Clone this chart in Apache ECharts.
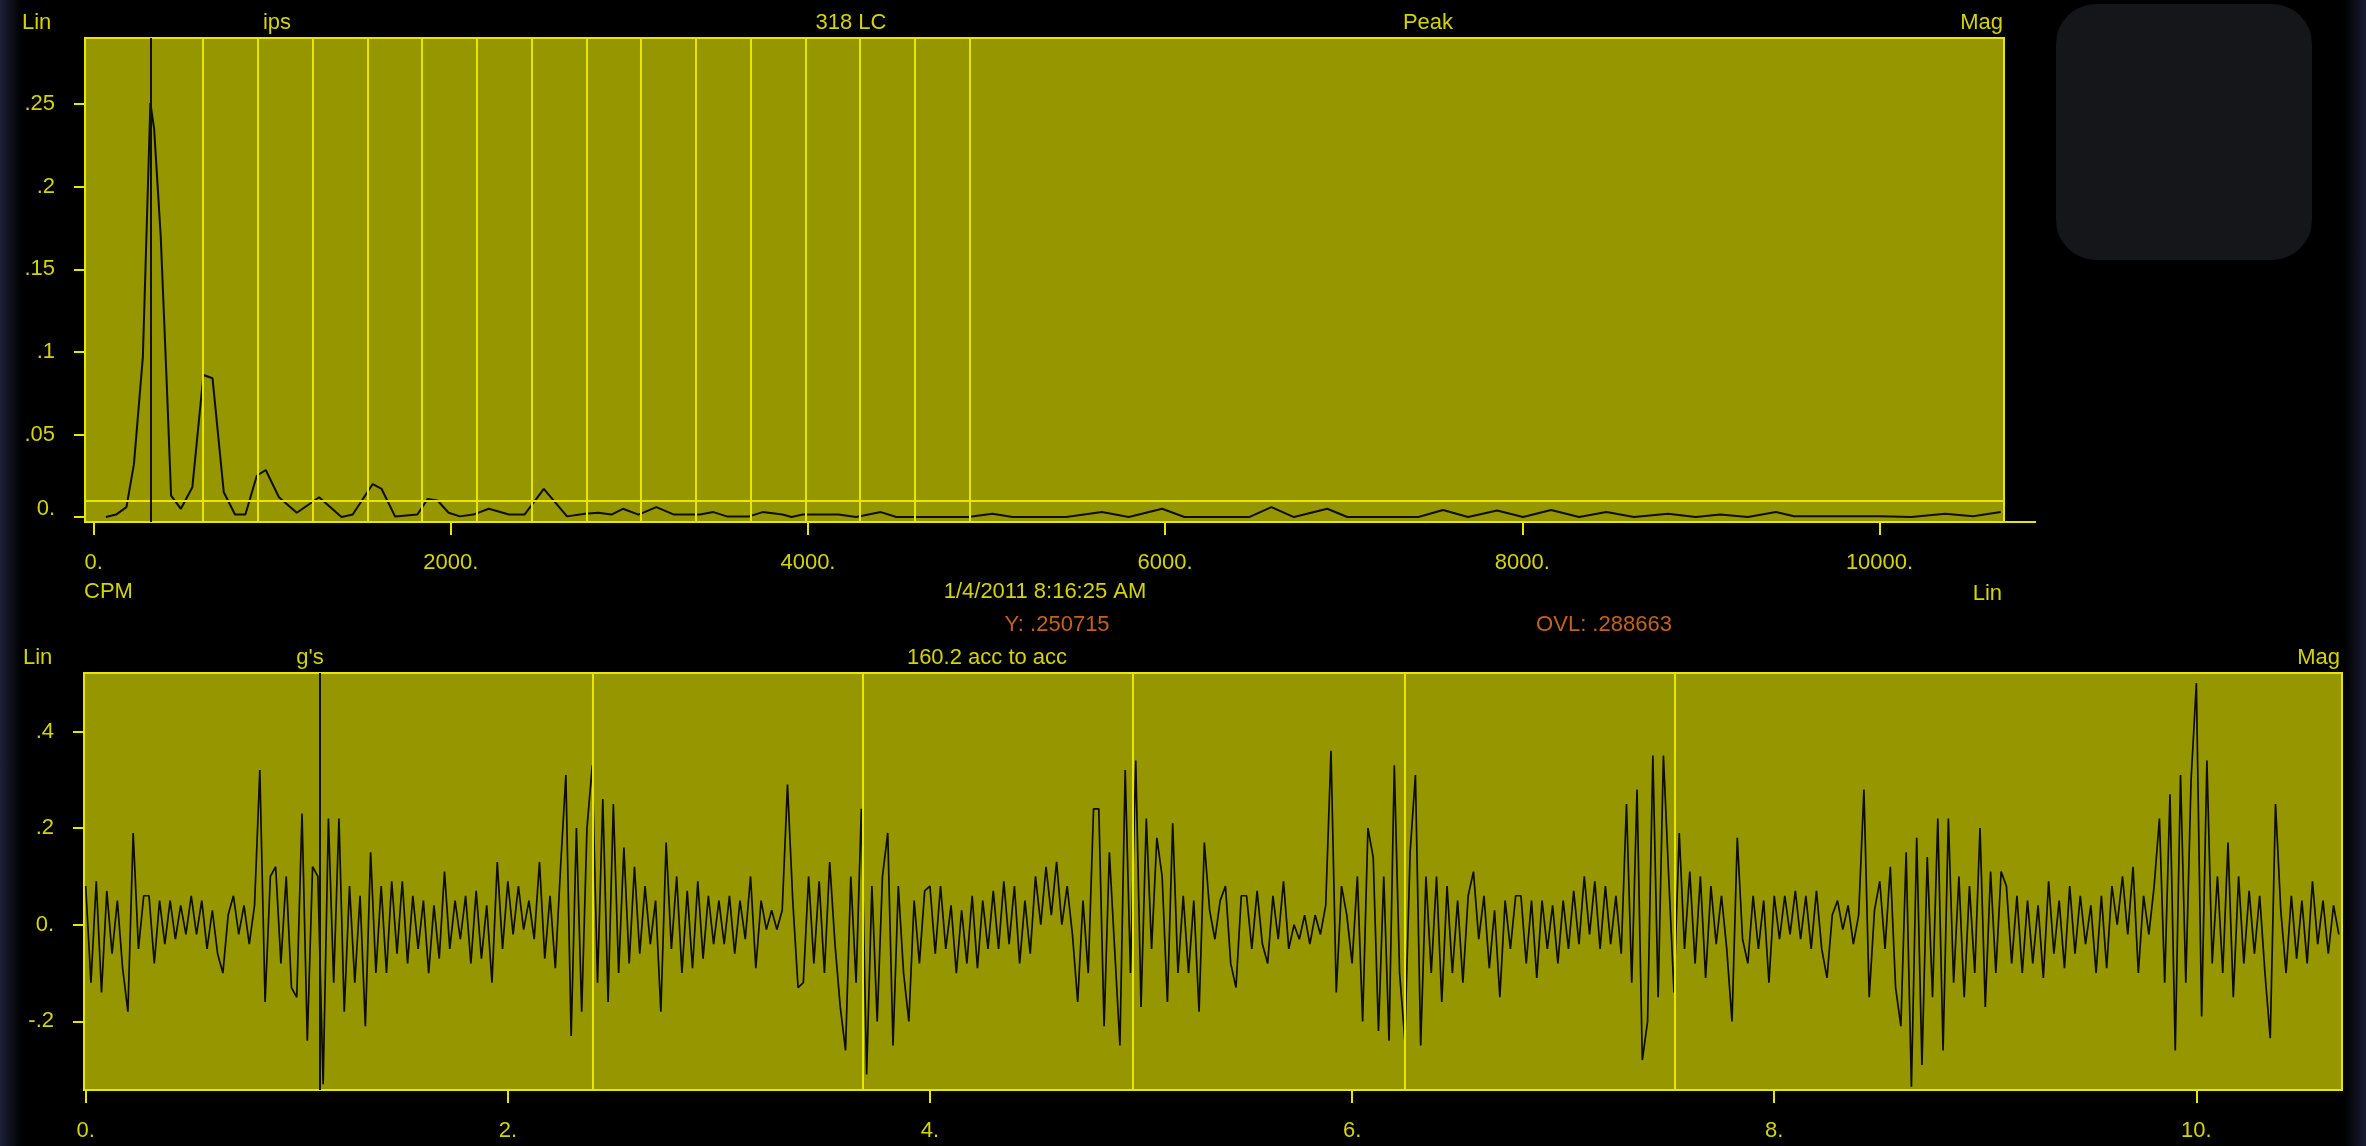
<!DOCTYPE html>
<html>
<head>
<meta charset="utf-8">
<title>Spectrum and waveform</title>
<script src="https://cdn.jsdelivr.net/npm/echarts@6/dist/echarts.min.js"></script>
<style>
  html, body { margin: 0; padding: 0; }
  body {
    width: 2366px; height: 1146px; overflow: hidden;
    background: linear-gradient(to right, #1c2038 0px, #000 22px, #000 2344px, #191c33 2366px);
  }
  #chart { width: 2366px; height: 1146px; }
</style>
</head>
<body>
<div id="chart"></div>
<script>
// ---- spectrum (top): CPM vs ips
const specCpm = [69, 126, 184, 226, 276, 318, 339, 376, 410, 434, 489, 553, 615, 666, 729, 792, 850, 914, 964, 1038,
  1138, 1263, 1388, 1451, 1563, 1613, 1688, 1813, 1871, 1926, 1988, 2051, 2126, 2213, 2326, 2413, 2521, 2651, 2751, 2826,
  2900, 2964, 3051, 3151, 3250, 3395, 3471, 3546, 3671, 3746, 3858, 3908, 3971, 4171, 4270, 4408, 4495, 4896, 5033, 5146,
  5446, 5646, 5796, 5983, 6108, 6470, 6595, 6721, 6908, 7020, 7315, 7418, 7556, 7696, 7859, 8004, 8161, 8318, 8471, 8625,
  8816, 8971, 9108, 9263, 9420, 9521, 9799, 10006, 10178, 10367, 10523, 10679];
const specAmp = [0.0, 0.0015, 0.006, 0.032, 0.097, 0.2507, 0.235, 0.17, 0.08, 0.013, 0.005, 0.018, 0.086, 0.084, 0.015, 0.0015, 0.0015, 0.025, 0.0285, 0.012,
  0.0026, 0.012, 0.0, 0.0015, 0.02, 0.017, 0.0004, 0.0015, 0.011, 0.010, 0.0026, 0.0004, 0.0015, 0.005, 0.0015, 0.0015, 0.017, 0.0004, 0.002, 0.0026,
  0.0015, 0.005, 0.0015, 0.006, 0.0015, 0.0015, 0.003, 0.0004, 0.0004, 0.003, 0.0015, 0.0, 0.0015, 0.0015, 0.0, 0.003, 0.0, 0.0, 0.002, 0.0,
  0.0, 0.003, 0.0, 0.005, 0.0, 0.0, 0.006, 0.0, 0.005, 0.0, 0.0, 0.0, 0.0043, 0.0, 0.004, 0.0, 0.0043, 0.0, 0.003, 0.0,
  0.002, 0.0, 0.0015, 0.0, 0.003, 0.0005, 0.0005, 0.0005, 0.0, 0.002, 0.0005, 0.003];
const specCursor = 318;
const harmonicLines = [613, 920, 1226, 1533, 1839, 2146, 2452, 2759, 3065, 3372, 3678, 3985, 4291, 4598, 4904];
const specAlarm = 0.014;
const specXTicks = [0, 2000, 4000, 6000, 8000, 10000];
const specYTicks = [0, 0.05, 0.1, 0.15, 0.2, 0.25];

// ---- waveform (bottom): g's, one sample every 0.025 s
const waveStep = 0.025;
const waveG = [
  0.08, -0.12, 0.09, -0.14,  0.07, -0.06, 0.05, -0.09,  -0.18, 0.19, -0.05, 0.06,  0.06, -0.08, 0.05, -0.04,
  0.05, -0.03, 0.04, -0.02,  0.06, -0.02, 0.05, -0.05,  0.03, -0.06, -0.1, 0.02,  0.06, -0.02, 0.04, -0.04,
  0.04, 0.32, -0.16, 0.1,  0.12, -0.08, 0.1, -0.13,  -0.15, 0.23, -0.24, 0.12,  0.1, -0.33, 0.22, -0.12,
  0.22, -0.18, 0.08, -0.12,  0.06, -0.21, 0.15, -0.1,  0.08, -0.1, 0.09, -0.06,  0.09, -0.08, 0.06, -0.05,
  0.05, -0.1, 0.04, -0.07,  0.11, -0.05, 0.05, -0.03,
  0.06, -0.08, 0.07, -0.07,  0.04, -0.12, 0.13, -0.05,  0.09, -0.02, 0.08, -0.01,  0.05, -0.03, 0.13, -0.07,
  0.06, -0.09, 0.12, 0.31,  -0.23, 0.2, -0.18, 0.2,  0.33, -0.12, 0.26, -0.16,  0.25, -0.1, 0.16, -0.08,
  0.12, -0.06, 0.08, -0.04,  0.05, -0.18, 0.17, -0.05,  0.1, -0.1, 0.07, -0.09,  0.09, -0.07, 0.06, -0.04,
  0.05, -0.04, 0.06, -0.06,  0.05, -0.03, 0.1, -0.09,  0.05, -0.01, 0.03, -0.01,  0.03, 0.29, 0.05, -0.13,
  -0.12, 0.1, -0.08, 0.09,  -0.1, 0.13, -0.04, -0.17,
  -0.26, 0.1, -0.12, 0.24,  -0.31, 0.08, -0.2, 0.1,  0.19, -0.25, 0.08, -0.1,  -0.2, 0.05, -0.08, 0.07,
  0.08, -0.06, 0.08, -0.05,  0.04, -0.1, 0.03, -0.08,  0.06, -0.09, 0.05, -0.05,  0.07, -0.05, 0.09, -0.04,
  0.08, -0.08, 0.05, -0.06,  0.1, 0.0, 0.12, 0.02,  0.13, 0.0, 0.08, -0.02,  -0.16, 0.05, -0.1, 0.24,
  0.24, -0.21, 0.15, -0.05,  -0.25, 0.32, -0.1, 0.34,  -0.17, 0.22, -0.05, 0.18,  0.1, -0.16, 0.21, -0.1,
  0.06, -0.1, 0.05, -0.18,  0.17, 0.03, -0.03, 0.05,
  0.08, -0.08, -0.13, 0.06,  0.06, -0.05, 0.07, -0.04,  -0.08, 0.06, -0.03, 0.09,  -0.05, 0.0, -0.03, 0.02,
  -0.04, 0.02, -0.02, 0.04,  0.36, -0.14, 0.08, 0.02,  -0.08, 0.1, -0.2, 0.2,  0.14, -0.22, 0.1, -0.24,
  0.33, -0.1, -0.24, 0.15,  0.31, -0.25, 0.1, -0.1,  0.1, -0.16, 0.08, -0.1,  0.05, -0.12, 0.06, 0.11,
  -0.03, 0.06, -0.09, 0.03,  -0.15, 0.05, -0.05, 0.06,  0.06, -0.08, 0.05, -0.11,  0.05, -0.05, 0.04, -0.08,
  0.05, -0.05, 0.07, -0.04,  0.1, -0.02, 0.09, -0.05,
  0.08, -0.04, 0.06, -0.06,  0.25, -0.12, 0.28, -0.28,  -0.2, 0.35, -0.15, 0.35,  0.1, -0.14, 0.19, -0.05,
  0.11, -0.08, 0.1, -0.11,  0.08, -0.04, 0.06, -0.05,  -0.2, 0.18, -0.03, -0.08,  0.06, -0.05, 0.05, -0.12,
  0.06, -0.03, 0.06, -0.02,  0.07, -0.03, 0.06, -0.05,  0.07, -0.05, -0.11, 0.02,  0.05, -0.01, 0.04, -0.04,
  0.02, 0.28, -0.15, 0.03,  0.09, -0.05, 0.12, -0.13,  -0.21, 0.15, -0.335, 0.18,  -0.29, 0.14, -0.15, 0.22,
  -0.26, 0.22, -0.12, 0.1,  -0.15, 0.08, -0.1, 0.2,
  -0.17, 0.11, -0.1, 0.11,  0.08, -0.08, 0.06, -0.1,  0.05, -0.08, 0.04, -0.11,  0.09, -0.06, 0.05, -0.09,
  0.08, -0.06, 0.06, -0.04,  0.04, -0.1, 0.06, -0.09,  0.08, 0.0, 0.1, -0.02,  0.12, -0.1, 0.06, -0.02,
  0.08, 0.22, -0.12, 0.27,  -0.26, 0.31, -0.12, 0.3,  0.5, -0.19, 0.34, -0.08,  0.1, -0.1, 0.17, -0.15,
  0.1, -0.08, 0.07, -0.06,  0.06, -0.1, -0.235, 0.25,  0.03, -0.1, 0.06, -0.07,  0.05, -0.08, 0.09, -0.04,
  0.05, -0.06, 0.04, -0.02
];
const waveCursor = 1.113;
const periodLines = [2.396, 3.679, 4.962, 6.245, 7.528];
const waveXTicks = [0, 2, 4, 6, 8, 10];
const waveYTicks = [-0.2, 0, 0.2, 0.4];

const FONT = '"Liberation Sans", Arial, sans-serif';
const TXT = '#d4d400';
const ORANGE = '#c2631a';
const FRAME = '#e6e600';
const PLOT_BG = '#969600';
const TRACE = '#0c0c00';

const fmt = v => {
  if (v === 0) return '0.';
  if (Number.isInteger(v)) return v + '.';
  return String(v).replace(/^(-?)0\./, '$1.');
};

const chart = echarts.init(document.getElementById('chart'));

const labelStyle = { color: TXT, fontSize: 22, fontFamily: FONT };

const xAxisBase = (grid, min, max, ticks) => ({
  type: 'value', gridIndex: grid, min: min, max: max,
  axisLine: { show: true, onZero: false, lineStyle: { color: FRAME, width: 2 } },
  axisTick: { show: true, length: 13, customValues: ticks, lineStyle: { color: FRAME, width: 2 } },
  axisLabel: Object.assign({ customValues: ticks, formatter: fmt, margin: 30 }, labelStyle),
  splitLine: { show: false }
});
const yAxisBase = (grid, min, max, ticks, liftZero) => ({
  type: 'value', gridIndex: grid, min: min, max: max,
  axisLine: { show: true, onZero: false, lineStyle: { color: FRAME, width: 2 } },
  axisTick: { show: true, length: 11, customValues: ticks, lineStyle: { color: FRAME, width: 2 } },
  axisLabel: Object.assign({
    customValues: ticks, margin: 30,
    // the spectrum's "0." sits a little above its tick
    formatter: v => (liftZero && v === 0) ? '{z|0.}' : fmt(v),
    rich: { z: Object.assign({ padding: [0, 0, 16, 0] }, labelStyle) }
  }, labelStyle),
  splitLine: { show: false }
});

const vLine = (v, color) => ({ xAxis: v, lineStyle: { color: color, width: 2, type: 'solid' } });

const text = (str, x, y, align, color) => ({
  type: 'text', x: x, y: y,
  style: { text: str, fill: color || TXT, font: '22px ' + FONT, textAlign: align || 'center', textVerticalAlign: 'middle' }
});

chart.setOption({
  backgroundColor: 'transparent',
  animation: false,
  grid: [
    { left: 85, top: 38, width: 1919, height: 484, show: true, backgroundColor: PLOT_BG, borderColor: FRAME, borderWidth: 2 },
    { left: 84, top: 673, width: 2258, height: 417, show: true, backgroundColor: PLOT_BG, borderColor: FRAME, borderWidth: 2 }
  ],
  xAxis: [
    xAxisBase(0, -48, 10697, specXTicks),
    xAxisBase(1, -0.008, 10.69, waveXTicks)
  ],
  yAxis: [
    yAxisBase(0, -0.003, 0.29, specYTicks, true),
    yAxisBase(1, -0.342, 0.521, waveYTicks, false)
  ],
  series: [
    {
      type: 'line', xAxisIndex: 0, yAxisIndex: 0, data: [], z: 1, silent: true,
      markLine: {
        silent: true, symbol: 'none', animation: false, label: { show: false },
        data: harmonicLines.map(v => vLine(v, FRAME))
          .concat([{ yAxis: specAlarm, lineStyle: { color: FRAME, width: 2, type: 'solid' } }])
          .concat([vLine(specCursor, '#111100')])
      }
    },
    {
      type: 'line', xAxisIndex: 0, yAxisIndex: 0, z: 3,
      data: specCpm.map((c, i) => [c, specAmp[i]]),
      showSymbol: false, lineStyle: { color: TRACE, width: 2 }
    },
    {
      type: 'line', xAxisIndex: 1, yAxisIndex: 1, data: [], z: 1, silent: true,
      markLine: {
        silent: true, symbol: 'none', animation: false, label: { show: false },
        data: periodLines.map(v => vLine(v, FRAME)).concat([vLine(waveCursor, '#111100')])
      }
    },
    {
      type: 'line', xAxisIndex: 1, yAxisIndex: 1, z: 3,
      data: waveG.map((g, i) => [i * waveStep, g]),
      showSymbol: false, sampling: null, lineStyle: { color: TRACE, width: 1.7 }
    }
  ],
  graphic: [
    { type: 'rect', shape: { x: 2056, y: 4, width: 256, height: 256, r: 40 }, style: { fill: '#151619' } },
    { type: 'line', shape: { x1: 2004, y1: 522, x2: 2036, y2: 522 }, style: { stroke: FRAME, lineWidth: 2 } },
    text('Lin', 22, 23, 'left'),
    text('ips', 277, 23),
    text('318 LC', 851, 23),
    text('Peak', 1428, 23),
    text('Mag', 2003, 23, 'right'),
    text('CPM', 84, 592, 'left'),
    text('1/4/2011 8:16:25 AM', 1045, 592),
    text('Lin', 2002, 594, 'right'),
    text('Y: .250715', 1057, 625, 'center', ORANGE),
    text('OVL: .288663', 1604, 625, 'center', ORANGE),
    text('Lin', 23, 658, 'left'),
    text("g's", 310, 658),
    text('160.2 acc to acc', 987, 658),
    text('Mag', 2340, 658, 'right')
  ]
});
</script>
</body>
</html>
